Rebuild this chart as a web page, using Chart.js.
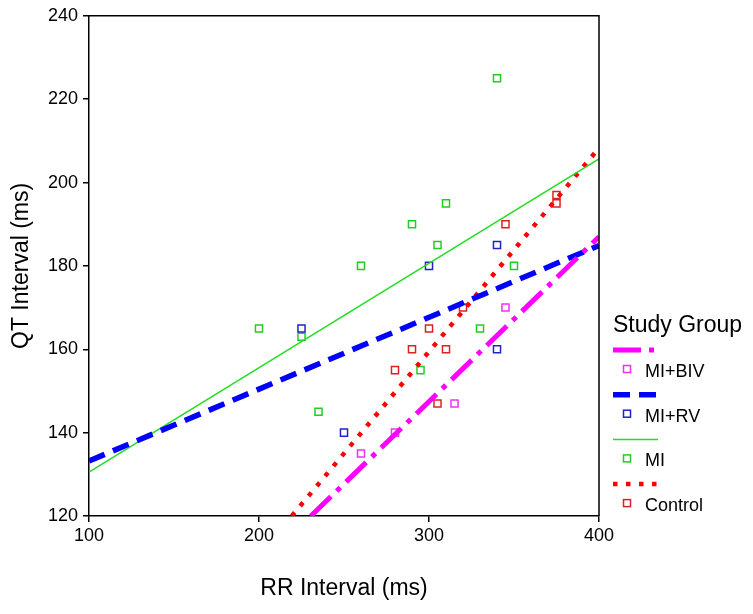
<!DOCTYPE html>
<html>
<head>
<meta charset="utf-8">
<script src="https://cdn.jsdelivr.net/npm/chart.js@4/dist/chart.umd.min.js"></script>
<style>
  body { margin: 0; background: #fff; }
  canvas { display: block; }
</style>
</head>
<body>
<canvas id="qtChart" width="753" height="614"></canvas>
<script>
// ============================================
// Data: QT vs RR interval by study group
// ============================================

const groups = ["MI+BIV", "MI+RV", "MI", "Control"];

// observed points
const rrBIV = [260, 280, 315, 345];
const qtBIV = [135, 140, 147, 170];

const rrRV = [225, 250, 300, 340, 340];
const qtRV = [165, 140, 180, 185, 160];

const rrMI = [200, 225, 235, 260, 290, 295, 305, 310, 330, 340, 350];
const qtMI = [165, 163, 145, 180, 190, 155, 185, 195, 165, 225, 180];

const rrCtl = [280, 290, 300, 305, 310, 320, 345, 375, 375];
const qtCtl = [155, 160, 165, 147, 160, 170, 190, 195, 197];

// fit line end points
const fitRrBIV = [230.5, 400];
const fitQtBIV = [120, 187];

const fitRrRV = [100, 400];
const fitQtRV = [133.2, 184.9];

const fitRrMI = [100, 400];
const fitQtMI = [130.5, 205.7];

const fitRrCtl = [219.3, 400];
const fitQtCtl = [120, 208.3];

const xTicks = [100, 200, 300, 400];
const yTicks = [120, 140, 160, 180, 200, 220, 240];

const FONT = '"Liberation Sans", Arial, sans-serif';


function toPoints(xs, ys) {
    return xs.map((x, i) => ({ x: x, y: ys[i] }));
}


function fitLine(xs, ys, color, width, dash) {
    return {
        type: "line",
        data: toPoints(xs, ys),
        borderColor: color,
        borderWidth: width,
        borderDash: dash,
        borderCapStyle: "butt",
        pointRadius: 0,
        fill: false,
        clip: 0
    };
}


function scatterSet(xs, ys, color) {
    return {
        type: "scatter",
        data: toPoints(xs, ys),
        pointStyle: "rect",
        pointRadius: 5,
        pointHoverRadius: 5,
        borderColor: color,
        borderWidth: 1.5,
        backgroundColor: "rgba(0,0,0,0)"
    };
}


// ============================================
// Plugins: frame + legend
// ============================================

const frame = {
    id: "frame",
    afterDraw(chart) {
        const a = chart.chartArea;
        const ctx = chart.ctx;
        ctx.save();
        ctx.strokeStyle = "#000";
        ctx.lineWidth = 1.5;
        ctx.beginPath();
        ctx.moveTo(a.left, a.top);
        ctx.lineTo(a.right, a.top);
        ctx.lineTo(a.right, a.bottom);
        ctx.stroke();
        ctx.restore();
    }
};


const studyLegend = {
    id: "studyLegend",
    afterDraw(chart) {
        const ctx = chart.ctx;
        ctx.save();
        ctx.fillStyle = "#000";
        ctx.font = "23px " + FONT;
        ctx.textBaseline = "alphabetic";
        ctx.fillText("Study Group", 613, 332);

        groups.forEach((name, i) => {
            const line = chart.data.datasets[i];
            const pts = chart.data.datasets[i + groups.length];
            const y0 = 350 + i * 44.7;

            ctx.strokeStyle = line.borderColor;
            ctx.lineWidth = line.borderWidth;
            ctx.lineCap = "butt";
            ctx.setLineDash(line.borderDash || []);
            ctx.beginPath();
            ctx.moveTo(613, y0);
            ctx.lineTo(658, y0);
            ctx.stroke();

            ctx.setLineDash([]);
            ctx.strokeStyle = pts.borderColor;
            ctx.lineWidth = pts.borderWidth;
            ctx.strokeRect(627 - 3.5, y0 + 19 - 3.5, 7, 7);

            ctx.fillStyle = "#000";
            ctx.font = "18px " + FONT;
            ctx.textBaseline = "middle";
            ctx.fillText(name, 645, y0 + 22);
        });
        ctx.restore();
    }
};


// ============================================
// Chart
// ============================================

new Chart(document.getElementById("qtChart"), {
    data: {
        datasets: [
            fitLine(fitRrBIV, fitQtBIV, "#ff00ff", 5, [28, 8, 5, 8]),
            fitLine(fitRrRV, fitQtRV, "#0000ff", 5.5, [17, 9]),
            fitLine(fitRrMI, fitQtMI, "#22dd22", 1.5, []),
            fitLine(fitRrCtl, fitQtCtl, "#ff0000", 4.5, [4.5, 8.5]),
            scatterSet(rrBIV, qtBIV, "#ee33ee"),
            scatterSet(rrRV, qtRV, "#2222cc"),
            scatterSet(rrMI, qtMI, "#22cc22"),
            scatterSet(rrCtl, qtCtl, "#dd2222")
        ]
    },
    options: {
        responsive: false,
        animation: false,
        layout: {
            padding: { left: 0, right: 154, top: 15, bottom: 0 }
        },
        plugins: {
            legend: { display: false },
            tooltip: { enabled: false }
        },
        scales: {
            x: {
                type: "linear",
                min: 100,
                max: 400,
                afterBuildTicks: s => { s.ticks = xTicks.map(v => ({ value: v })); },
                afterFit: s => { s.height = 98; },
                grid: { drawOnChartArea: false, drawTicks: true, tickLength: 6, color: "#000", lineWidth: 1.5 },
                border: { color: "#000", width: 1.5 },
                ticks: { color: "#000", padding: 3, maxRotation: 0, font: { family: FONT, size: 18 } },
                title: {
                    display: true,
                    text: "RR Interval (ms)",
                    color: "#000",
                    font: { family: FONT, size: 23 },
                    padding: { top: 0, bottom: 12 }
                }
            },
            y: {
                type: "linear",
                min: 120,
                max: 240,
                afterBuildTicks: s => { s.ticks = yTicks.map(v => ({ value: v })); },
                afterFit: s => { s.width = 89; },
                grid: { drawOnChartArea: false, drawTicks: true, tickLength: 6, color: "#000", lineWidth: 1.5 },
                border: { color: "#000", width: 1.5 },
                ticks: { color: "#000", padding: 5, font: { family: FONT, size: 18 } },
                title: {
                    display: true,
                    text: "QT Interval (ms)",
                    color: "#000",
                    font: { family: FONT, size: 23 },
                    padding: { top: 8, bottom: 0 }
                }
            }
        }
    },
    plugins: [frame, studyLegend]
});
</script>
</body>
</html>
